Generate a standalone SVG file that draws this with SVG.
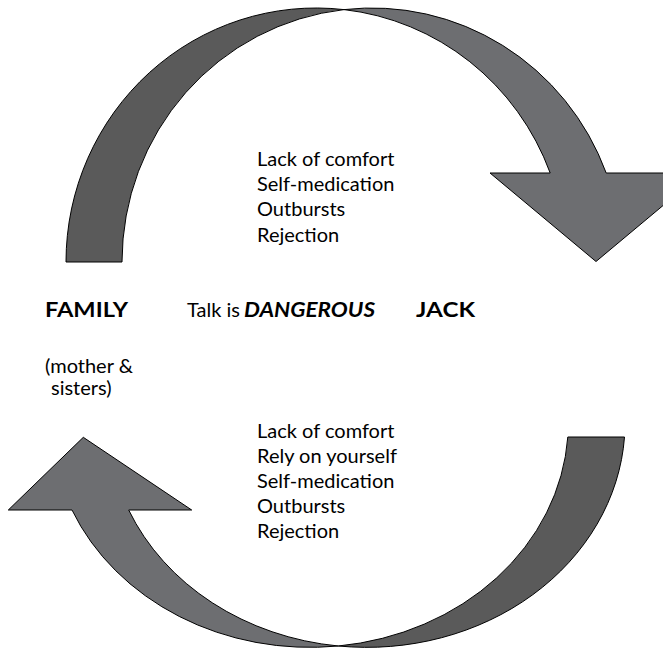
<svg xmlns="http://www.w3.org/2000/svg" width="663" height="648" viewBox="0 0 663 648">
<style>
.dark{fill:#5a5a5a;stroke:#000;stroke-width:1;stroke-linejoin:miter}
.light{fill:#6d6e71;stroke:#000;stroke-width:1;stroke-linejoin:miter}
text{font-family:Lato,"Liberation Sans",sans-serif;font-size:20px;fill:#000}
.b{font-weight:bold;font-size:21px}
.bi{font-weight:bold;font-style:italic;font-size:21px}
</style>
<rect width="663" height="648" fill="#fff"/>
<g id="connectors">
<g id="top-arrow">
<path class="dark" d="M66 262 A250 254 0 0 1 344 9.6 A250 254 0 0 0 122 262 Z"/>
<path class="light" d="M344 9.6 A250 254 0 0 1 606.2 173 L702 173 L596 261.5 L490 173 L550.2 173 A250 254 0 0 0 344 9.6 Z"/>
</g>
<g id="bottom-arrow">
<path class="dark" d="M567.8 437 L624.5 437 A258.35 225 0 0 1 338.3 646 A258.35 225 0 0 0 567.8 437 Z"/>
<path class="light" d="M338.3 646 A258.35 225 0 0 1 72 510 L8.3 510 L83.3 437.3 L191.7 510 L128.7 510 A258.35 225 0 0 0 338.3 646 Z"/>
</g>
</g>
<g id="top-list">
<text x="257" y="166">Lack of comfort</text>
<text x="257" y="191">Self-medication</text>
<text x="257" y="216">Outbursts</text>
<text x="257" y="242">Rejection</text>
</g>
<g id="family">
<text x="45" y="317" class="b" textLength="83" lengthAdjust="spacingAndGlyphs">FAMILY</text>
<text x="45" y="373">(mother &amp;</text>
<text x="51" y="395">sisters)</text>
</g>
<g id="talk">
<text x="187" y="317">Talk is</text>
<text x="244" y="317" class="bi" textLength="131" lengthAdjust="spacingAndGlyphs">DANGEROUS</text>
</g>
<g id="jack">
<text x="416" y="317" class="b" textLength="59" lengthAdjust="spacingAndGlyphs">JACK</text>
</g>
<g id="bottom-list">
<text x="257" y="438">Lack of comfort</text>
<text x="257" y="463">Rely on yourself</text>
<text x="257" y="488">Self-medication</text>
<text x="257" y="513">Outbursts</text>
<text x="257" y="538">Rejection</text>
</g>
</svg>
